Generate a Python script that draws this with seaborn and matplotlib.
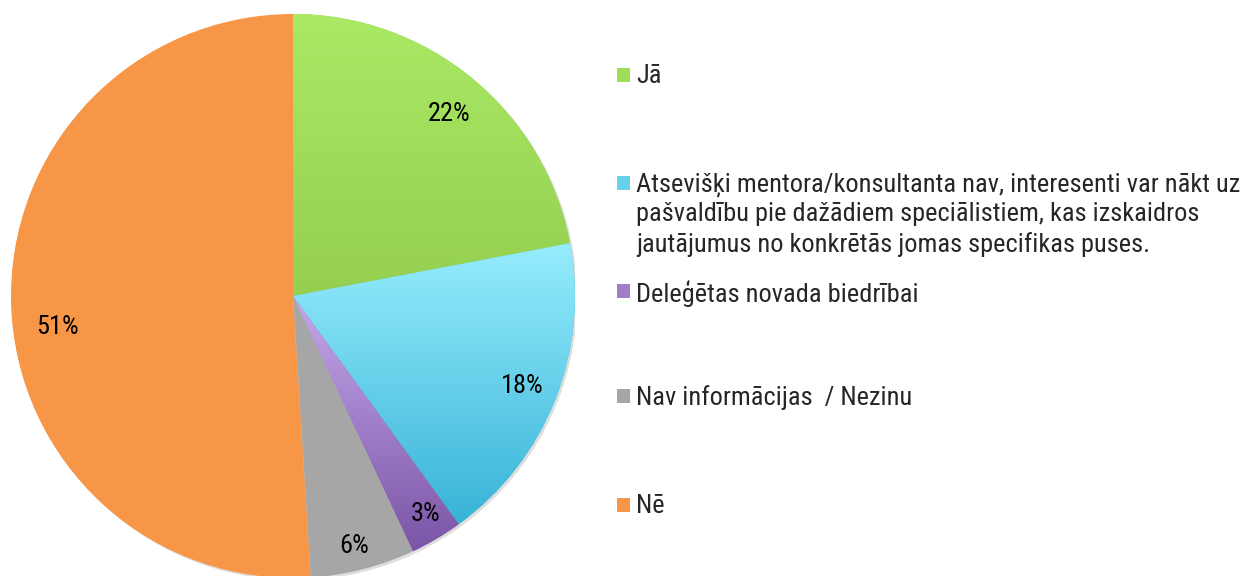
import matplotlib
matplotlib.use('Agg')
import matplotlib.pyplot as plt
import matplotlib.colors as mcolors
from matplotlib.patches import Rectangle, Circle
import numpy as np
import seaborn as sns

# dati
categories = [
    'Jā',
    'Atsevišķi mentora/konsultanta nav, interesenti var nākt uz\n'
    'pašvaldību pie dažādiem speciālistiem, kas izskaidros\n'
    'jautājumus no konkrētās jomas specifikas puses.',
    'Deleģētas novada biedrībai',
    'Nav informācijas  / Nezinu',
    'Nē',
]
values = [22, 18, 3, 6, 51]
# krāsas: (augša, apakša) gradientam
top_colors = ['#a9e964', '#96edfd', '#c5a9ea', '#a6a6a6', '#f79646']
bottom_colors = ['#95cf50', '#38b3d7', '#7b54a6', '#a6a6a6', '#f79646']

sns.set_style('white')
plt.rcParams['font.family'] = ['Roboto Condensed', 'Liberation Sans', 'DejaVu Sans']

fig = plt.figure(figsize=(12.6, 5.76), dpi=100)
cx, cy, r = 293, 296, 282
ax = fig.add_axes([(cx - r) / 1260, (576 - cy - r) / 576, 2 * r / 1260, 2 * r / 576])

# viegla ēna apakšā pa labi
ax.add_patch(Circle((0.008, -0.008), 1.0, facecolor='#c8c8c8', edgecolor='none', alpha=0.6, zorder=0))

wedges, texts, autotexts = ax.pie(
    values, colors=bottom_colors, startangle=90, counterclock=False,
    autopct='%1.0f%%', pctdistance=0.87, radius=1,
    wedgeprops=dict(linewidth=0, zorder=1),
    textprops=dict(fontsize=19, color='black'))

# vertikāls gradients katrai daļai
for w, c0, c1 in zip(wedges, top_colors, bottom_colors):
    if c0 == c1:
        continue
    v = w.get_path().vertices
    x0, x1 = v[:, 0].min(), v[:, 0].max()
    y0, y1 = v[:, 1].min(), v[:, 1].max()
    cmap = mcolors.LinearSegmentedColormap.from_list('g', [c1, c0])
    grad = np.linspace(0, 1, 256).reshape(-1, 1)
    im = ax.imshow(grad, extent=[x0, x1, y0, y1], origin='lower', cmap=cmap,
                   aspect='auto', zorder=1.1, interpolation='bilinear')
    im.set_clip_path(w)

# etiķešu nobīdes kā Excel
label_shift = [(0, -0.025), (0.005, 0), (0.028, -0.025), (0, -0.045), (0.035, -0.082)]
for t, (dx, dy) in zip(autotexts, label_shift):
    x, y = t.get_position()
    t.set_position((x + dx, y + dy))
    t.set_zorder(5)

ax.set_xlim(-1, 1)
ax.set_ylim(-1, 1)
ax.set_aspect('equal')
ax.axis('off')

# leģenda
legend_y = [75, 183, 291, 396, 505]
for i, (lab, ly) in enumerate(zip(categories, legend_y)):
    mid = mcolors.to_hex([(a + b) / 2 for a, b in zip(mcolors.to_rgb(top_colors[i]),
                                                      mcolors.to_rgb(bottom_colors[i]))])
    fig.patches.append(Rectangle((617 / 1260, 1 - (ly + 7) / 576), 13 / 1260, 14 / 576,
                                 transform=fig.transFigure, facecolor=mid, edgecolor='none'))
    fig.text(636 / 1260, 1 - (ly - 11) / 576, lab, fontsize=19, va='top', ha='left',
             linespacing=1.3)

plt.savefig('out.png', dpi=100)
plt.close()
